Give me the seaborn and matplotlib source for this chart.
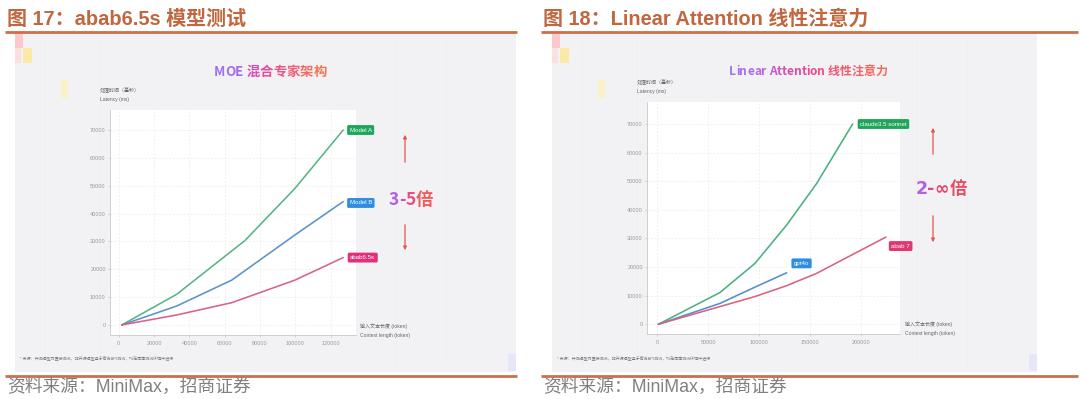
import matplotlib
matplotlib.use("Agg")
import matplotlib.pyplot as plt
from matplotlib.patches import Rectangle
from matplotlib.colors import LinearSegmentedColormap
import pandas as pd
import seaborn as sns

# ---------------- texts ----------------
LEFT_TITLE = "图 17：abab6.5s 模型测试"
RIGHT_TITLE = "图 18：Linear Attention 线性注意力"
SOURCE = "资料来源：MiniMax，招商证券"
LEFT_SLIDE_TITLE = "MOE 混合专家架构"
RIGHT_SLIDE_TITLE = "Linear Attention 线性注意力"
LEFT_RATIO = "3-5倍"
RIGHT_RATIO = "2-∞倍"
Y_LABEL_CN = "处理时间（毫秒）"
Y_LABEL_EN = "Latency (ms)"
X_LABEL_CN = "输入文本长度 (token)"
X_LABEL_EN = "Context length (token)"
FOOTNOTE = "* 来源：共测模型为直接测试，非开源模型基于官方API测试，均在同等测试环境中进行"

# ---------------- left chart data (MOE) ----------------
moe_models = ["Model A", "Model B", "abab6.5s"]
model_a_tokens = [1700, 32800, 71500, 99800, 127200]
model_a_latency = [0, 11000, 30300, 49000, 70000]
model_b_tokens = [1700, 32800, 64000, 99800, 127200]
model_b_latency = [0, 6800, 16100, 32300, 44300]
abab65s_tokens = [1700, 32800, 64000, 99800, 127200]
abab65s_latency = [0, 3600, 8000, 16100, 24200]
left_xticks = [0, 20000, 40000, 60000, 80000, 100000, 120000]
left_yticks = [0, 10000, 20000, 30000, 40000, 50000, 60000, 70000]

# ---------------- right chart data (Linear Attention) ----------------
la_models = ["claude3.5 sonnet", "gpt4o", "abab 7"]
claude_tokens = [1000, 61400, 95800, 126800, 156200, 191500]
claude_latency = [0, 11100, 21300, 34700, 49200, 70000]
gpt4o_tokens = [1000, 61400, 95800, 126800]
gpt4o_latency = [0, 7300, 13000, 18000]
abab7_tokens = [1000, 61400, 95800, 126800, 156200, 224200]
abab7_latency = [0, 6200, 9700, 13500, 17800, 30500]
right_xticks = [0, 50000, 100000, 150000, 200000]
right_yticks = [0, 10000, 20000, 30000, 40000, 50000, 60000, 70000]

# ---------------- styles ----------------
TITLE_COLOR = "#c1673f"
RULE_COLOR = "#c9714b"
SLIDE_BG = "#f2f2f5"
left_palette = {"Model A": "#58b487", "Model B": "#5b92c9", "abab6.5s": "#d7628a"}
left_box = {"Model A": "#1fa65a", "Model B": "#2f8de0", "abab6.5s": "#e0307a"}
right_palette = {"claude3.5 sonnet": "#4bb07e", "gpt4o": "#4f8fca", "abab 7": "#d8637f"}
right_box = {"claude3.5 sonnet": "#1fa65a", "gpt4o": "#2f8de0", "abab 7": "#e0386e"}

sns.set_theme(style="white")
plt.rcParams["font.family"] = ["Liberation Sans", "Noto Sans CJK SC", "DejaVu Sans"]
CJK = ["Noto Sans CJK SC", "DejaVu Sans"]

W, H = 1080, 399
fig = plt.figure(figsize=(10.8, 3.99), dpi=100)
fig.patch.set_facecolor("white")
bg = fig.add_axes([0, 0, 1, 1])
bg.set_xlim(0, W)
bg.set_ylim(H, 0)
bg.axis("off")
renderer = fig.canvas.get_renderer()


def px_axes(x0, y0, x1, y1):
    return fig.add_axes([x0 / W, 1 - y1 / H, (x1 - x0) / W, (y1 - y0) / H])


def grad_text(x_center, y_base, text, stops, size, family=None, weight="bold"):
    cmap = LinearSegmentedColormap.from_list("g", stops)
    kw = dict(fontsize=size, weight=weight)
    if family:
        kw["family"] = family
    t = bg.text(0, 0, text, **kw)
    total = t.get_window_extent(renderer).width
    t.remove()
    left = x_center - total / 2
    n = len(text)
    for i, ch in enumerate(text):
        if ch == " ":
            continue
        t = bg.text(0, 0, text[: i + 1], **kw)
        right = left + t.get_window_extent(renderer).width
        t.remove()
        bg.text(right, y_base, ch, color=cmap(i / max(n - 1, 1)), ha="right",
                va="baseline", **kw)


# ---------------- page decorations ----------------
for (x0, x1, title) in [(5, 517, LEFT_TITLE), (541, 1078, RIGHT_TITLE)]:
    bg.plot([x0, x1], [31.5, 31.5], color=RULE_COLOR, lw=2.0, solid_capstyle="butt")
    bg.plot([x0, x1], [375.5, 375.5], color=RULE_COLOR, lw=2.0, solid_capstyle="butt")
    bg.text(x0 + 2, 25, title, color=TITLE_COLOR, fontsize=14.4, weight="bold",
            ha="left", va="baseline")
    bg.text(x0 + 2, 387, SOURCE, color="#808080", fontsize=12.8, ha="left", va="center")

for (sx0, sx1) in [(15, 516), (552, 1037)]:
    bg.add_patch(Rectangle((sx0, 33), sx1 - sx0, 339, fc=SLIDE_BG, ec="none", zorder=0))
    bg.add_patch(Rectangle((sx0, 33), 8, 15, fc="#fbc9cc", ec="none", zorder=1))
    bg.add_patch(Rectangle((sx0, 48), 6, 15, fc="#fbe0e2", ec="none", zorder=1))
    bg.add_patch(Rectangle((sx0 + 8, 48), 9, 15, fc="#fbe9a6", ec="none", zorder=1))
    bg.add_patch(Rectangle((sx0 + 46, 80), 7, 18, fc="#fbf1c8", ec="none", zorder=1))
    bg.add_patch(Rectangle((sx1 - 8, 354), 8, 17, fc="#e6e6fa", ec="none", zorder=1))
    # very faint ghost panels of the screenshot
    for gx in [sx0 + 30, sx0 + 85, sx1 - 120, sx1 - 70]:
        bg.plot([gx, gx], [40, 365], color="#eeeef1", lw=0.5, zorder=1)

# slide titles
grad_text(270, 76, LEFT_SLIDE_TITLE,
          ["#9c72ee", "#a46cea", "#e447a2", "#ef5b7c", "#f47556"], 9.6, family=CJK)
grad_text(808, 75, RIGHT_SLIDE_TITLE,
          ["#9c72ee", "#b864dd", "#e2479f", "#ec4f7e", "#f36b5a"], 8.6, family=CJK)

# ratio texts
grad_text(411, 205, LEFT_RATIO, ["#b45ee0", "#e5469a", "#f05a5a"], 12.5, family=CJK)
grad_text(941, 194, RIGHT_RATIO, ["#b45ee0", "#e3428a", "#ea4068", "#ea4a60"], 12.5,
          family=["DejaVu Sans", "Noto Sans CJK SC"])

# arrows
ARROW = "#e5574f"
for (ax_x, up0, up1, dn0, dn1) in [(405, 165, 132, 222, 253), (933, 157, 125, 213, 245)]:
    bg.annotate("", xy=(ax_x, up1), xytext=(ax_x, up0),
                arrowprops=dict(arrowstyle="-|>", color=ARROW, lw=0.9, mutation_scale=5))
    bg.annotate("", xy=(ax_x, dn1), xytext=(ax_x, dn0),
                arrowprops=dict(arrowstyle="-|>", color=ARROW, lw=0.9, mutation_scale=5))

# axis titles & footnotes
for (yx, yy, xx, xy, fx) in [(100, 90, 360, 326, 20), (637, 82, 905, 324, 557)]:
    bg.text(yx, yy, Y_LABEL_CN, fontsize=3.6, color="#666666", ha="left", va="center")
    bg.text(yx, yy + 10, Y_LABEL_EN, fontsize=3.6, color="#666666", ha="left", va="center")
    bg.text(xx, xy, X_LABEL_CN, fontsize=3.6, color="#666666", ha="left", va="center")
    bg.text(xx, xy + 10, X_LABEL_EN, fontsize=3.6, color="#666666", ha="left", va="center")
    bg.text(fx, 358, FOOTNOTE, fontsize=2.9, color="#777777", ha="left", va="center")


# ---------------- data axes ----------------
def limits(p0, p1, zero_px, px_per_unit):
    return (p0 - zero_px) / px_per_unit, (p1 - zero_px) / px_per_unit


def style_axes(ax, xticks, yticks):
    ax.set_facecolor("white")
    ax.set_xticks(xticks)
    ax.set_yticks(yticks)
    ax.set_xticklabels([str(v) for v in xticks])
    ax.set_yticklabels([str(v) for v in yticks])
    ax.tick_params(axis="both", labelsize=4, labelcolor="#9a9a9a", color="#c4c4c4",
                   length=1.6, width=0.5, bottom=True, left=True)
    ax.tick_params(axis="x", pad=3)
    ax.tick_params(axis="y", pad=1.5)
    for s in ["top", "right"]:
        ax.spines[s].set_visible(False)
    for s in ["left", "bottom"]:
        ax.spines[s].set_color("#cfcfcf")
        ax.spines[s].set_linewidth(0.7)
    ax.grid(True, color="#e9e9e9", lw=0.5, ls=(0, (2.5, 2.5)))
    ax.set_axisbelow(True)
    ax.set_xlabel("")
    ax.set_ylabel("")


def draw_panel(ax, names, xs, ys, palette, boxes, offsets):
    rows = []
    for name, xv, yv in zip(names, xs, ys):
        for a, b in zip(xv, yv):
            rows.append({"model": name, "tokens": a, "latency": b})
    df = pd.DataFrame(rows)
    sns.lineplot(data=df, x="tokens", y="latency", hue="model", palette=palette,
                 estimator=None, sort=False, lw=1.15, legend=False, ax=ax)
    for name, xv, yv in zip(names, xs, ys):
        ax.annotate(name, xy=(xv[-1], yv[-1]), xytext=offsets[name], textcoords="offset points",
                    fontsize=4.4, color="white", ha="left", va="center", annotation_clip=False,
                    bbox=dict(boxstyle="round,pad=0.4,rounding_size=0.25", fc=boxes[name], ec="none"))


# left panel: x=0 at px 118.7, 35.3px per 20000; y=0 at px 325, 195px per 70000
axL = px_axes(110, 110, 356, 335)
draw_panel(axL, moe_models,
           [model_a_tokens, model_b_tokens, abab65s_tokens],
           [model_a_latency, model_b_latency, abab65s_latency],
           left_palette, left_box,
           {"Model A": (4.6, 0), "Model B": (4.6, -1), "abab6.5s": (5.0, 0)})
style_axes(axL, left_xticks, left_yticks)
axL.set_xlim(*limits(110, 356, 118.7, 35.3 / 20000))
axL.set_ylim(*[-v for v in limits(335, 110, 325, 195 / 70000)])

# right panel: x=0 at px 657.3, 51px per 50000; y=0 at px 324.3, 200.3px per 70000
axR = px_axes(647, 102, 900, 334)
draw_panel(axR, la_models,
           [claude_tokens, gpt4o_tokens, abab7_tokens],
           [claude_latency, gpt4o_latency, abab7_latency],
           right_palette, right_box,
           {"claude3.5 sonnet": (5.4, 0), "gpt4o": (5.2, 6.8), "abab 7": (3.8, -6.5)})
style_axes(axR, right_xticks, right_yticks)
axR.set_xlim(*limits(647, 900, 657.3, 51 / 50000))
axR.set_ylim(*[-v for v in limits(334, 102, 324.3, 200.3 / 70000)])

fig.savefig("out.png", dpi=100)
